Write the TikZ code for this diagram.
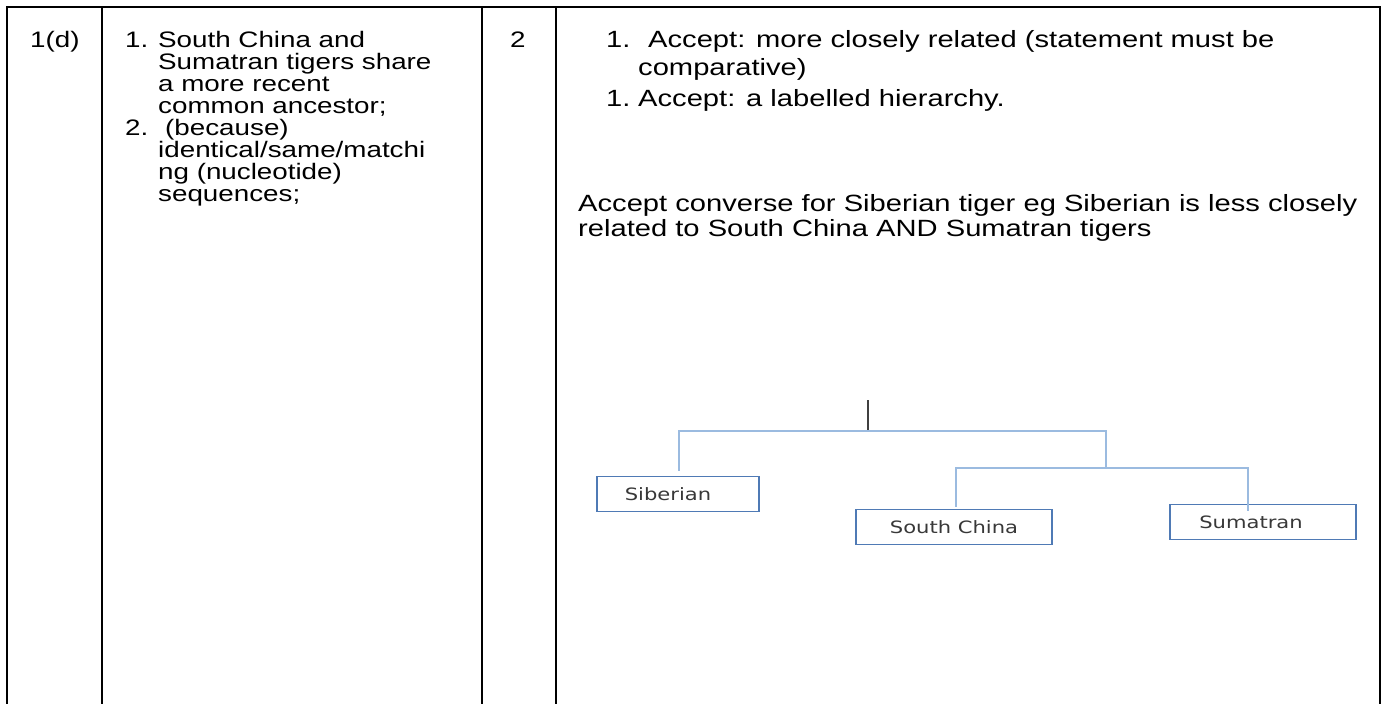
\documentclass[tikz,border=0pt]{standalone}
\usepackage{graphicx}
\usepackage{fontspec}
\setmainfont{Liberation Sans}
\newfontfamily\boxfont{DejaVu Sans}
\usetikzlibrary{positioning}
\definecolor{treeblue}{HTML}{9BBBE0}
\definecolor{boxblue}{HTML}{4F7AB5}
\newcommand{\wide}[1]{\scalebox{1.24}[1]{#1}}
\begin{document}
\begin{tikzpicture}[x=1pt, y=-1pt,
		cell/.style={anchor=base west, inner sep=0, font=\fontsize{22.4}{22}\selectfont},
		bigcell/.style={cell, font=\fontsize{23.5}{25}\selectfont},
		rule/.style={line width=2pt},
		leaf/.style={draw=boxblue, line width=1.3pt, rectangle, minimum height=35pt, inner sep=0, text=black!78, font=\boxfont\fontsize{17}{20}\selectfont},
		branch/.style={draw=treeblue, line width=1.5pt}]
	\useasboundingbox (0,0) rectangle (1387,704);
	% table frame
	\draw[rule] (7,704) -- (7,7) -- (1380,7) -- (1380,704);
	\foreach \cx in {102, 482, 556}
		\draw[rule] (\cx,7) -- (\cx,704);
	
	% first three columns
	\node[cell](qnum) at (30,47) {\wide{1(d)}};
	\node[cell](aa) at (125,47) {\wide{1.}};
	\node[cell](a1) at (158,47) {\wide{South China and}};
	\node[cell](a2) at (158,69) {\wide{Sumatran tigers share}};
	\node[cell](a3) at (158,91) {\wide{a more recent}};
	\node[cell](a4) at (158,113) {\wide{common ancestor;}};
	\node[cell](bb) at (125,135) {\wide{2.}};
	\node[cell](b1) at (165,135) {\wide{(because)}};
	\node[cell](b2) at (158,157) {\wide{identical/same/matchi}};
	\node[cell](b3) at (158,179) {\wide{ng (nucleotide)}};
	\node[cell](b4) at (158,201) {\wide{sequences;}};
	\node[cell](marks) at (510,47) {\wide{2}};
	
	% guidance column
	\node[bigcell](g1n) at (606,47) {\wide{1.}};
	\node[bigcell](g1) at (648,47) {\wide{Accept: more closely related (statement must be}};
	\node[bigcell](g1b) at (638,75) {\wide{comparative)}};
	\node[bigcell](g2n) at (606,106) {\wide{1.}};
	\node[bigcell](g2) at (638,106) {\wide{Accept: a labelled hierarchy.}};
	\node[bigcell](c1) at (578,211) {\wide{Accept converse for Siberian tiger eg Siberian is less closely}};
	\node[bigcell](c2) at (578,236) {\wide{related to South China AND Sumatran tigers}};
	
	% hierarchy
	\node[leaf, minimum width=162pt](siberian) at (678,494) {\wide{Siberian}\hspace*{20pt}};
	\node[leaf, minimum width=196pt](southchina) at (954,527) {\wide{South China}};
	\node[leaf, minimum width=186pt](sumatran) at (1263,522) {\wide{Sumatran}\hspace*{24pt}};
	\coordinate (root) at (868,400);
	\coordinate (top) at (868,431);
	\coordinate (inner) at (1106,468);
	\draw[black!75, line width=1.5pt] (root) -- (top);
	\draw[branch] (siberian.north -| 679,0) ++(0,-5) |- (top) -| (inner);
	\draw[branch] (southchina.north -| 956,0) ++(0,-2) |- (inner) -| ([yshift=-7pt]sumatran.north -| 1248,0);
\end{tikzpicture}
\end{document}
